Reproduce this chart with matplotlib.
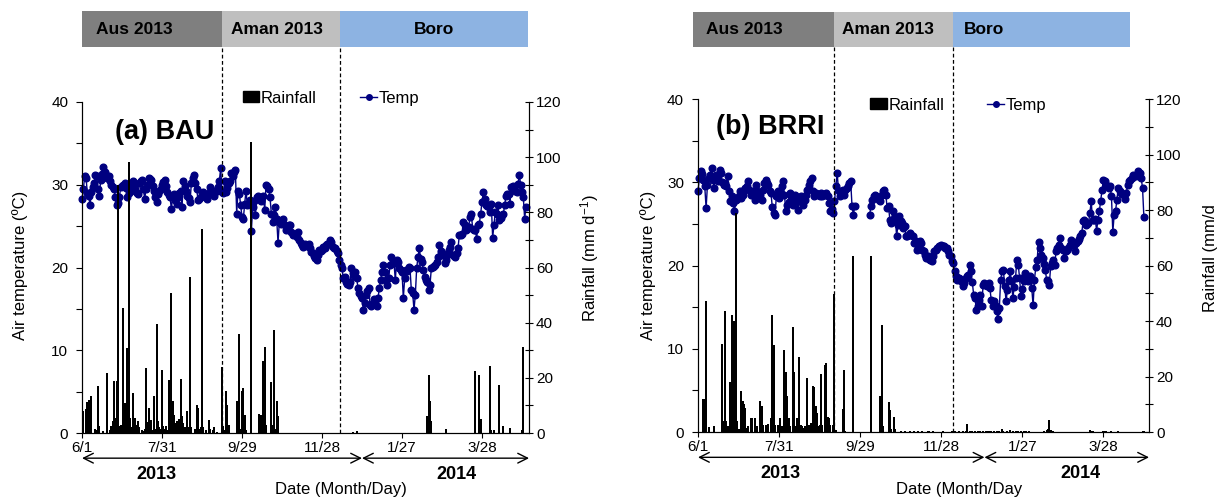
import numpy as np
import matplotlib
matplotlib.use('Agg')
import matplotlib.pyplot as plt
from matplotlib.ticker import MultipleLocator
from matplotlib.patches import Patch
from matplotlib.lines import Line2D

plt.rcParams['font.family'] = ['Liberation Sans', 'DejaVu Sans']
plt.rcParams['mathtext.fontset'] = 'custom'
plt.rcParams['mathtext.rm'] = 'Liberation Sans'
plt.rcParams['mathtext.it'] = 'Liberation Sans:italic'

nan = np.nan

# x values are days counted from 1 June 2013
tick_days = [0, 60, 120, 180, 240, 300]
tick_labels = ['6/1', '7/31', '9/29', '11/28', '1/27', '3/28']

seasons = ['Aus 2013', 'Aman 2013', 'Boro']
season_colors = ['#7f7f7f', '#bfbfbf', '#8db3e2']

# ---- (a) BAU ----
temp_bau = [
    28.3, 29.5, 31.0, 30.8, 29.0, 28.7, 27.5, 29.1, 29.7, 30.2,
    31.2, 31.0, 29.5, 28.7, 30.6, 31.3, 32.2, 31.6, 31.0, 30.8,
    31.0, 30.4, 30.0, 29.7, 29.5, 28.5, 27.5, 27.8, 28.5, 29.7,
    29.9, 30.0, 30.2, 29.6, 28.5, 29.0, 29.5, 30.1, 30.4, 29.8,
    29.3, 29.0, 28.9, 30.2, 30.4, 30.6, 29.5, 28.3, 29.5, 30.0,
    30.8, 30.7, 30.6, 29.9, 29.3, 28.5, 27.9, 28.9, 29.3, 29.5,
    30.0, 30.3, 30.6, 29.8, 29.1, 28.8, 28.5, 27.1, 28.5, 28.9,
    28.2, 27.7, 28.5, 29.0, 29.3, 27.3, 30.4, 29.8, 29.3, 28.7,
    28.4, 27.9, 30.2, 30.8, 31.2, 30.2, 29.5, 28.1, 28.3, 28.5,
    29.0, 29.1, 28.7, 28.5, 28.3, 29.0, 29.7, 29.4, 29.1, 28.7,
    29.3, 29.3, 29.7, 30.5, 32.0, 29.1, 29.0, 30.4, 29.1, 29.6,
    30.2, 30.5, 31.4, 31.0, 31.5, 31.8, 26.5, 29.3, 28.9, 27.5,
    26.1, 25.9, 27.7, 29.3, 27.5, 27.7, 28.2, 24.4, 27.3, 28.0,
    26.3, 28.5, 28.7, 28.3, 28.0, 28.5, 28.7, 26.9, 30.0, 29.8,
    29.5, 28.5, 26.5, 25.5, 26.4, 27.3, 25.9, 23.0, 25.5, 25.2,
    25.7, 25.9, 25.1, 24.5, 24.8, 25.1, 25.1, 24.3, 23.9, 24.0,
    24.1, 23.7, 24.3, 23.3, 23.0, 22.7, 22.5, 22.9, 22.7, 22.6,
    22.9, 22.3, 21.9, 21.7, 21.4, 21.1, 20.9, 21.5, 22.1, 22.0,
    22.1, 22.5, 22.3, 22.7, 22.8, 22.9, 23.3, 23.1, 22.5, 22.4,
    22.3, 22.0, 21.7, 20.9, 20.3, 19.9, 18.7, 18.9, 18.3, 18.0,
    17.9, 18.3, 19.9, 19.3, 19.0, 19.5, 18.7, 17.5, 16.9, 16.5,
    16.3, 14.9, 15.7, 16.7, 17.2, 17.5, 15.5, 15.3, 15.7, 16.2,
    15.9, 15.3, 16.3, 17.5, 18.5, 19.5, 20.3, 19.5, 18.5, 17.9,
    18.7, 20.3, 21.3, 20.7, 20.5, 18.5, 20.9, 20.7, 20.0, 19.7,
    19.5, 16.3, 18.7, 19.7, 19.6, 20.1, 19.9, 17.3, 16.9, 14.9,
    16.7, 19.9, 21.3, 22.3, 21.0, 20.7, 19.7, 18.9, 18.5, 18.2,
    17.3, 17.9, 19.9, 20.1, 20.2, 20.3, 20.7, 21.3, 22.7, 22.0,
    21.7, 21.5, 20.5, 20.9, 21.5, 22.1, 22.5, 23.1, 21.5, 21.4,
    21.3, 21.7, 22.3, 23.9, 23.9, 24.1, 25.5, 25.1, 24.5, 24.7,
    24.9, 26.1, 26.5, 24.7, 24.5, 24.5, 23.5, 25.1, 25.3, 26.5,
    27.9, 29.1, 28.3, 27.5, 27.4, 27.3, 26.7, 27.7, 23.6, 25.1,
    26.7, 26.5, 27.5, 25.7, 26.0, 26.3, 26.5, 27.5, 28.7, 28.9,
    28.9, 27.7, 29.7, 29.9, 29.5, 29.3, 29.1, 30.1, 31.2, 30.0,
    29.1, 28.5, 25.9, 27.3,
]

rain_bau_day = [
    1, 3, 4, 5, 7, 10, 11, 12, 13, 16, 19, 21, 22, 23, 24, 25, 26, 27, 28, 29,
    30, 31, 32, 33, 34, 35, 36, 37, 38, 39, 40, 41, 42, 43, 45, 46, 47, 48, 49, 50,
    51, 52, 53, 54, 55, 56, 57, 58, 59, 60, 61, 62, 63, 64, 65, 66, 67, 68, 69, 70,
    71, 72, 73, 74, 75, 76, 77, 79, 80, 81, 82, 85, 86, 87, 88, 89, 90, 91, 93, 95,
    96, 98, 99, 101, 105, 106, 107, 108, 109, 110, 116, 117, 118, 119, 120, 121, 122, 123, 127, 133,
    134, 135, 136, 137, 138, 142, 143, 144, 145, 146, 147, 203, 206, 259, 260, 261, 262, 273, 295, 298,
    299, 306, 307, 309, 313, 316, 321, 330, 331,
]
rain_bau_mm = [
    7.9, 8.7, 11.2, 12.1, 13.3, 1.5, 1.0, 16.9, 2.4, 0.8, 21.7, 1.0, 2.4, 4.2, 19.0, 5.5, 19.0, 90.0, 2.4, 3.0,
    1.5, 45.3, 10.9, 8.0, 30.8, 98.2, 5.5, 2.0, 14.5, 5.5, 5.5, 3.0, 4.2, 2.0, 1.0, 0.8, 1.5, 23.6, 4.0, 9.1,
    2.5, 4.8, 1.2, 13.3, 1.5, 39.5, 4.2, 2.0, 1.5, 22.7, 2.4, 1.5, 2.4, 1.2, 19.3, 18.1, 50.7, 11.5, 6.5, 3.5,
    4.5, 3.0, 5.0, 19.7, 6.0, 3.5, 2.0, 7.9, 2.0, 56.5, 2.0, 1.5, 10.0, 9.0, 1.5, 2.0, 74.0, 2.0, 1.0, 4.8,
    1.5, 1.0, 2.0, 0.5, 23.8, 2.4, 1.0, 15.1, 10.3, 3.0, 11.5, 1.0, 36.0, 1.5, 15.1, 16.3, 6.5, 1.0, 105.4, 6.9,
    6.5, 1.5, 26.0, 31.2, 3.0, 18.5, 3.0, 37.4, 1.5, 11.5, 6.0, 0.5, 0.7, 6.0, 20.9, 11.7, 4.5, 1.5, 22.3, 20.9,
    5.2, 24.2, 1.0, 1.0, 17.5, 2.4, 1.8, 1.0, 31.2,
]
bau_season_edges = [0, 105, 193.5, 334.6]

# ---- (b) BRRI ----
temp_brri = [
    28.9, 30.5, 31.3, 31.0, 30.3, 29.5, 26.9, 29.7, 30.5, 30.9,
    31.7, 30.3, 29.3, 30.9, 30.5, 30.1, 31.5, 31.1, 30.0, 29.7,
    29.9, 29.5, 30.7, 28.9, 27.7, 28.3, 27.5, 26.5, 27.9, 28.0,
    28.3, 28.9, 28.1, 28.5, 29.1, 29.3, 29.5, 30.1, 29.1, 28.5,
    28.9, 28.5, 27.9, 29.7, 28.9, 28.6, 28.5, 27.9, 29.1, 29.9,
    30.3, 29.9, 29.7, 28.9, 28.7, 27.0, 26.3, 26.1, 28.3, 28.9,
    28.1, 28.8, 29.5, 30.1, 28.5, 26.5, 27.3, 27.6, 28.7, 28.3,
    27.3, 27.8, 28.5, 27.9, 26.7, 27.7, 28.3, 27.6, 27.3, 27.9,
    28.5, 29.1, 29.7, 30.1, 30.5, 28.9, 28.3, 28.7, 28.6, 28.5,
    28.3, 28.7, 28.3, 28.6, 28.5, 28.7, 28.3, 27.5, 26.5, 26.8,
    26.3, 27.7, 29.5, 31.1, 29.0, 28.3, 28.9, 29.1, 28.5, 29.1,
    29.3, 29.5, 29.9, 30.1, 27.1, 26.1, 27.1, nan, nan, nan,
    nan, nan, nan, nan, nan, nan, nan, 26.1, 27.1, 27.9,
    28.3, 28.5, 28.3, 28.1, 27.9, 27.7, 28.5, 28.9, 29.1, 28.5,
    26.9, 27.1, 25.5, 25.1, 26.5, 25.3, 25.8, 23.5, 24.9, 25.9,
    25.4, 25.1, 24.5, 24.7, 23.5, 23.6, 23.7, 23.9, 23.7, 23.5,
    22.7, 22.9, 21.9, 22.3, 22.9, 22.7, 21.9, 21.7, 21.3, 20.9,
    21.1, 20.8, 20.7, 20.5, 21.1, 21.7, 21.9, 22.1, 22.3, 22.4,
    22.5, 22.4, 22.3, 22.1, 22.1, 21.7, 21.3, 21.1, 20.6, 20.3,
    19.3, 18.7, 18.3, 18.5, 18.4, 18.1, 17.5, 17.9, 18.5, 18.7,
    18.9, 20.1, 19.3, 18.0, 16.5, 16.1, 14.7, 15.1, 15.8, 16.5,
    15.1, 17.7, 17.9, 17.7, 17.5, 17.9, 17.3, 15.9, 15.1, 15.7,
    15.2, 14.5, 13.6, 14.9, 18.3, 19.3, 19.5, 17.5, 15.7, 17.1,
    18.2, 19.3, 18.1, 16.1, 17.4, 18.5, 20.7, 20.1, 18.5, 16.3,
    17.2, 18.1, 19.1, 18.9, 18.1, 18.4, 18.7, 17.3, 15.2, 18.3,
    19.8, 20.7, 22.8, 22.1, 21.3, 20.9, 20.2, 19.5, 18.3, 18.1,
    17.7, 19.9, 20.3, 20.7, 20.1, 21.7, 22.1, 22.5, 23.3, 22.1,
    21.9, 20.9, 21.7, 21.9, 22.1, 22.5, 23.1, 22.8, 22.5, 21.7,
    22.7, 22.9, 23.2, 23.5, 23.9, 25.3, 25.5, 24.9, 25.0, 25.1,
    26.3, 27.7, 25.5, 25.5, 25.6, 24.2, 25.5, 26.5, 27.8, 29.1,
    30.3, 30.1, 29.7, 29.5, 29.3, 29.5, 28.3, 24.0, 26.1, 26.5,
    27.9, 29.3, 28.9, 28.7, 28.6, 28.5, 28.0, 28.7, 29.7, 30.1,
    30.3, 30.5, 30.9, 30.7, 30.8, 30.9, 31.3, 31.1, 30.5, 29.3,
    25.8,
]

rain_brri_day = [
    4, 5, 6, 8, 12, 18, 19, 20, 21, 22, 23, 24, 25, 26, 27, 28, 29, 30, 32, 33,
    34, 35, 36, 37, 39, 40, 42, 44, 46, 47, 48, 50, 51, 52, 54, 55, 56, 57, 59, 61,
    62, 64, 65, 66, 67, 68, 70, 71, 72, 73, 75, 76, 77, 78, 79, 81, 82, 84, 85, 86,
    87, 88, 89, 90, 91, 92, 94, 95, 96, 97, 98, 100, 101, 102, 107, 108, 109, 115, 128, 135,
    136, 137, 141, 142, 143, 145, 146,
    150, 153, 157, 160, 163, 166, 170, 171, 174, 181, 188, 190, 193, 196, 198, 199, 201, 203, 205, 207,
    209, 211, 213, 215, 217, 219, 221, 223, 225, 226, 229, 231, 233, 235, 237, 239, 241, 243, 245, 256,
    258, 259, 260, 261, 262, 263, 290, 291, 292, 300, 301, 302, 306, 311, 329, 330,
]
rain_brri_mm = [
    12.0, 12.0, 47.3, 1.7, 2.0, 31.7, 3.8, 43.7, 3.8, 2.0, 1.5, 18.2, 42.3, 13.4, 39.9, 79.0, 3.8, 1.0, 14.6, 11.0,
    10.1, 8.6, 1.5, 2.0, 5.0, 5.0, 5.0, 2.0, 11.3, 9.2, 2.5, 2.5, 1.0, 2.8, 5.0, 42.0, 31.2, 2.5, 2.6, 5.0,
    2.0, 29.7, 21.8, 12.8, 5.0, 2.0, 37.7, 21.8, 2.0, 5.0, 26.9, 2.5, 2.0, 1.5, 2.0, 19.4, 2.5, 3.2, 16.7, 16.4,
    9.2, 6.8, 2.0, 2.5, 20.9, 2.5, 24.2, 24.8, 5.3, 5.0, 2.6, 2.5, 49.7, 0.8, 8.4, 22.4, 0.5, 63.5, 63.5, 12.8,
    38.7, 2.0, 10.8, 8.0, 1.0, 5.3, 1.0,
    0.3, 0.3, 0.3, 0.4, 0.3, 0.3, 0.4, 0.3, 0.3, 0.3, 0.4, 0.3, 0.3, 0.4, 0.3, 2.9, 0.4, 0.3, 0.3, 0.5,
    0.3, 0.3, 0.4, 0.3, 0.3, 0.4, 0.3, 0.5, 1.0, 0.4, 0.3, 0.8, 0.4, 0.3, 0.3, 0.4, 0.3, 0.3, 0.3, 0.4,
    0.6, 1.0, 4.4, 0.8, 0.4, 0.3, 0.9, 0.5, 0.3, 0.4, 0.3, 0.3, 0.3, 0.3, 0.4, 0.3,
]
brri_season_edges = [-4, 100.5, 188.5, 320]

temp_color = '#000080'

panels = [
    dict(rect=[0.0673, 0.1305, 0.3667, 0.6647], bar_rect=[0.0673, 0.9056, 0.3667, 0.0723],
         xmax=335.3, temp=temp_bau, rday=rain_bau_day, rmm=rain_bau_mm, edges=bau_season_edges,
         label_x=[10.5, 112, 264], label_ha=['left', 'left', 'center'],
         name='(a) BAU', name_xy=(25, 36.4), dash_top=1.166, split=210, year_x=[56, 281],
         legend_xy=(0.2715, 0.803), ylab_x=20, rlab_x=590, rlab='Rainfall (mm d$^{-1}$)',
         xlab='Date (Month/Day)', xlab_x=341),
    dict(rect=[0.5726, 0.1325, 0.3700, 0.6687], bar_rect=[0.5726, 0.9056, 0.3700, 0.0703],
         xmax=333.8, temp=temp_brri, rday=rain_brri_day, rmm=rain_brri_mm, edges=brri_season_edges,
         label_x=[6, 106.4, 196.8], label_ha=['left', 'left', 'left'],
         name='(b) BRRI', name_xy=(13, 36.6), dash_top=1.156, split=212, year_x=[61, 283],
         legend_xy=(0.786, 0.789), ylab_x=648, rlab_x=1210, rlab='Rainfall (mm/d',
         xlab='Date (Month/Day', xlab_x=959),
]

fig = plt.figure(figsize=(12.19, 4.98), dpi=100)

for p in panels:
    # season bar on top
    axs = fig.add_axes(p['bar_rect'])
    e = p['edges']
    for i, (season, c) in enumerate(zip(seasons, season_colors)):
        axs.barh(0, e[i + 1] - e[i], left=e[i], height=1, color=c, clip_on=False)
        axs.text(p['label_x'][i], 0, season, ha=p['label_ha'][i], va='center',
                 fontsize=12.5, fontweight='bold', color='black')
    axs.set_xlim(0, p['xmax'])
    axs.set_ylim(-0.5, 0.5)
    axs.axis('off')

    ax = fig.add_axes(p['rect'])
    ax2 = ax.twinx()
    days = np.arange(len(p['temp']))

    ax.plot(days, p['temp'], color=temp_color, lw=1.0, marker='o', markersize=4.8,
            clip_on=False, zorder=3)
    ax2.bar(p['rday'], p['rmm'], width=1.5, color='black', linewidth=0)

    ax.set_xlim(0, p['xmax'])
    ax.set_ylim(0, 40)
    ax2.set_ylim(0, 120)
    ax.set_yticks([0, 10, 20, 30, 40])
    ax.yaxis.set_minor_locator(MultipleLocator(5))
    ax2.set_yticks([0, 20, 40, 60, 80, 100, 120])
    ax2.yaxis.set_minor_locator(MultipleLocator(10))
    ax.set_xticks(tick_days, tick_labels)

    ax.tick_params(axis='y', which='both', direction='out', length=4, width=0.8,
                   labelsize=11, pad=6)
    ax.tick_params(axis='x', direction='out', length=3.5, width=0.8, labelsize=11, pad=2)
    ax2.tick_params(axis='y', which='both', direction='inout', length=6, width=0.8,
                    labelsize=11, pad=2)
    for a in (ax, ax2):
        a.spines['top'].set_visible(False)
        for s in ('left', 'right', 'bottom'):
            a.spines[s].set_linewidth(0.8)

    # season boundaries
    for d in e[1:3]:
        ax.axvline(d, ymin=0, ymax=p['dash_top'], color='black', lw=0.9,
                   ls=(0, (3, 2)), clip_on=False, zorder=4)

    ax.text(p['name_xy'][0], p['name_xy'][1], p['name'], fontsize=19.5,
            fontweight='bold', va='center', ha='left', zorder=5)

    # year arrows
    tr = ax.get_xaxis_transform()
    for x0, x1 in [(0, p['split']), (p['split'], p['xmax'])]:
        ax.annotate('', xy=(x0, -0.076), xytext=(x1, -0.076), xycoords=tr, textcoords=tr,
                    arrowprops=dict(arrowstyle='<->,head_length=0.7,head_width=0.35',
                                    lw=1.0, color='black', shrinkA=0, shrinkB=0),
                    annotation_clip=False)
    for x, yr in zip(p['year_x'], ['2013', '2014']):
        ax.text(x, -0.126, yr, transform=tr, ha='center', va='center',
                fontsize=13, fontweight='bold')

    handles = [Patch(facecolor='black', edgecolor='black'),
               Line2D([], [], color=temp_color, marker='o', markersize=4, lw=1.0)]
    ax2.legend(handles, ['Rainfall', 'Temp'], loc='center', bbox_to_anchor=p['legend_xy'],
               bbox_transform=fig.transFigure, ncol=2, frameon=False, fontsize=12,
               handlelength=1.0, handleheight=0.6, handletextpad=0.1, columnspacing=2.6)

    fig.text(p['ylab_x'] / 1219, 1 - 265 / 498, 'Air temperature (ºC)', rotation=90,
             ha='center', va='center', fontsize=12)
    fig.text(p['rlab_x'] / 1219, 1 - 258 / 498, p['rlab'], rotation=90,
             ha='center', va='center', fontsize=12)
    fig.text(p['xlab_x'] / 1219, 1 - 489 / 498, p['xlab'], ha='center', va='center',
             fontsize=12)

fig.savefig('out.png', dpi=100)
